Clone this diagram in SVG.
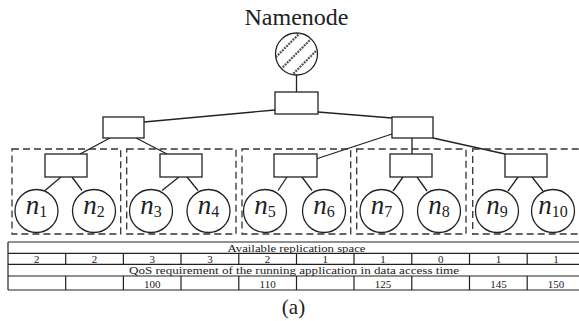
<svg xmlns="http://www.w3.org/2000/svg" width="579" height="321" viewBox="0 0 579 321">
<style>
.ln{stroke:#222;stroke-width:1.3;fill:none}
.bx{fill:#fff;stroke:#222;stroke-width:1.3}
.dash{fill:none;stroke:#333;stroke-width:1.3;stroke-dasharray:7 4}
.serif{font-family:"Liberation Serif","Times New Roman","DejaVu Serif",serif}
.lab{font-family:"Liberation Serif","Times New Roman","DejaVu Serif",serif;font-style:italic;font-size:27px;fill:#222;text-anchor:middle}
.sub{font-style:normal;font-size:16px}
.tb{font-family:"Liberation Serif","Times New Roman","DejaVu Serif",serif;font-size:11px;fill:#222;text-anchor:middle}
.tl{stroke:#222;stroke-width:1.2;fill:none}
</style>
<defs>
<clipPath id="cc"><circle cx="296.5" cy="54" r="21"/></clipPath>
</defs>
<rect width="579" height="321" fill="#fff"/>
<g id="title"><text class="serif" x="296.5" y="25" font-size="24" fill="#222" text-anchor="middle">Namenode</text></g>
<g id="connectors">
<line class="ln" x1="296.5" y1="75" x2="296.5" y2="92"/>
<line class="ln" x1="275" y1="110" x2="144" y2="122"/>
<line class="ln" x1="318" y1="112" x2="392" y2="118"/>
<line class="ln" x1="110" y1="138" x2="80" y2="154"/>
<line class="ln" x1="136" y1="138" x2="167" y2="154"/>
<line class="ln" x1="392" y1="134" x2="316" y2="159"/>
<line class="ln" x1="412" y1="138" x2="412" y2="154"/>
<line class="ln" x1="433" y1="138" x2="505" y2="154"/>
<line class="ln" x1="61" y1="177" x2="45" y2="190.5"/>
<line class="ln" x1="72" y1="177" x2="82" y2="190.5"/>
<line class="ln" x1="179" y1="177" x2="162" y2="190.5"/>
<line class="ln" x1="187" y1="177" x2="198" y2="190.5"/>
<line class="ln" x1="287" y1="177" x2="278" y2="190.5"/>
<line class="ln" x1="302" y1="177" x2="312" y2="190.5"/>
<line class="ln" x1="403" y1="177" x2="393" y2="191"/>
<line class="ln" x1="417" y1="177" x2="427" y2="191"/>
<line class="ln" x1="518" y1="177" x2="508" y2="191"/>
<line class="ln" x1="532" y1="177" x2="543" y2="191"/>
</g>
<g id="racks">
<rect class="dash" x="12" y="149" width="108.7" height="85"/>
<rect class="dash" x="126.7" y="149" width="109.3" height="85"/>
<rect class="dash" x="242" y="149" width="108.7" height="85"/>
<rect class="dash" x="356.7" y="149" width="109.3" height="85"/>
<rect class="dash" x="472.7" y="149" width="120" height="85"/>
</g>
<g id="namenode">
<circle cx="296.5" cy="54" r="21" fill="#fff" stroke="#222" stroke-width="1.3"/>
<g clip-path="url(#cc)" stroke="#555" stroke-width="2.2" stroke-dasharray="2 1">
<line x1="263" y1="70" x2="303" y2="30"/>
<line x1="270" y1="80" x2="320" y2="30"/>
<line x1="287" y1="80" x2="327" y2="40"/>
</g>
</g>
<g id="core"><rect class="bx" x="275" y="92" width="43" height="22"/></g>
<g id="agg1"><rect class="bx" x="103" y="117" width="41" height="21"/></g>
<g id="agg2"><rect class="bx" x="392" y="117" width="41" height="21"/></g>
<g id="sw1"><rect class="bx" x="45" y="154" width="42" height="23"/></g>
<g id="sw2"><rect class="bx" x="160" y="154" width="42" height="23"/></g>
<g id="sw3"><rect class="bx" x="274" y="154" width="43" height="23"/></g>
<g id="sw4"><rect class="bx" x="390" y="154" width="42" height="23"/></g>
<g id="sw5"><rect class="bx" x="505" y="154" width="42" height="23"/></g>
<g id="n1"><circle class="bx" cx="36.5" cy="211" r="21.5"/><text class="lab" x="36.5" y="214">n<tspan class="sub" dy="3">1</tspan></text></g>
<g id="n2"><circle class="bx" cx="94" cy="211" r="21.5"/><text class="lab" x="94" y="214">n<tspan class="sub" dy="3">2</tspan></text></g>
<g id="n3"><circle class="bx" cx="151" cy="211" r="21.5"/><text class="lab" x="151" y="214">n<tspan class="sub" dy="3">3</tspan></text></g>
<g id="n4"><circle class="bx" cx="208.5" cy="211" r="21.5"/><text class="lab" x="208.5" y="214">n<tspan class="sub" dy="3">4</tspan></text></g>
<g id="n5"><circle class="bx" cx="265" cy="211" r="21.5"/><text class="lab" x="265" y="214">n<tspan class="sub" dy="3">5</tspan></text></g>
<g id="n6"><circle class="bx" cx="324" cy="211" r="21.5"/><text class="lab" x="324" y="214">n<tspan class="sub" dy="3">6</tspan></text></g>
<g id="n7"><circle class="bx" cx="381.5" cy="211" r="21.5"/><text class="lab" x="381.5" y="214">n<tspan class="sub" dy="3">7</tspan></text></g>
<g id="n8"><circle class="bx" cx="439" cy="211" r="21.5"/><text class="lab" x="439" y="214">n<tspan class="sub" dy="3">8</tspan></text></g>
<g id="n9"><circle class="bx" cx="497" cy="211" r="21.5"/><text class="lab" x="497" y="214">n<tspan class="sub" dy="3">9</tspan></text></g>
<g id="n10"><circle class="bx" cx="553" cy="211" r="21.5"/><text class="lab" x="553" y="214">n<tspan class="sub" dy="3">10</tspan></text></g>
<g id="table">
<line class="tl" x1="8" y1="242" x2="579" y2="242"/>
<line class="tl" x1="8" y1="253.3" x2="579" y2="253.3"/>
<line class="tl" x1="8" y1="264.3" x2="579" y2="264.3"/>
<line class="tl" x1="8" y1="276" x2="579" y2="276"/>
<line class="tl" x1="8" y1="290" x2="579" y2="290"/>
<line class="tl" x1="8" y1="242" x2="8" y2="290"/>
<path class="tl" d="M65.7 253.3V264.3M123.4 253.3V264.3M181 253.3V264.3M238.8 253.3V264.3M296.5 253.3V264.3M354 253.3V264.3M411.8 253.3V264.3M469.5 253.3V264.3M527.2 253.3V264.3"/>
<path class="tl" d="M65.7 276V290M123.4 276V290M181 276V290M238.8 276V290M296.5 276V290M354 276V290M411.8 276V290M469.5 276V290M527.2 276V290"/>
<text class="tb" x="296.5" y="251.5" textLength="138" lengthAdjust="spacingAndGlyphs">Available replication space</text>
<text class="tb" x="36.8" y="262.8">2</text>
<text class="tb" x="94.5" y="262.8">2</text>
<text class="tb" x="152.2" y="262.8">3</text>
<text class="tb" x="209.9" y="262.8">3</text>
<text class="tb" x="267.6" y="262.8">2</text>
<text class="tb" x="325.3" y="262.8">1</text>
<text class="tb" x="383" y="262.8">1</text>
<text class="tb" x="440.7" y="262.8">0</text>
<text class="tb" x="498.4" y="262.8">1</text>
<text class="tb" x="556" y="262.8">1</text>
<text class="tb" x="294" y="273.5" textLength="330" lengthAdjust="spacingAndGlyphs">QoS requirement of the running application in data access time</text>
<text class="tb" x="152.2" y="288">100</text>
<text class="tb" x="267.6" y="288">110</text>
<text class="tb" x="383" y="288">125</text>
<text class="tb" x="498.4" y="288">145</text>
<text class="tb" x="556" y="288">150</text>
</g>
<g id="caption"><text class="serif" x="293.5" y="314" font-size="21" fill="#222" text-anchor="middle">(a)</text></g>
</svg>
